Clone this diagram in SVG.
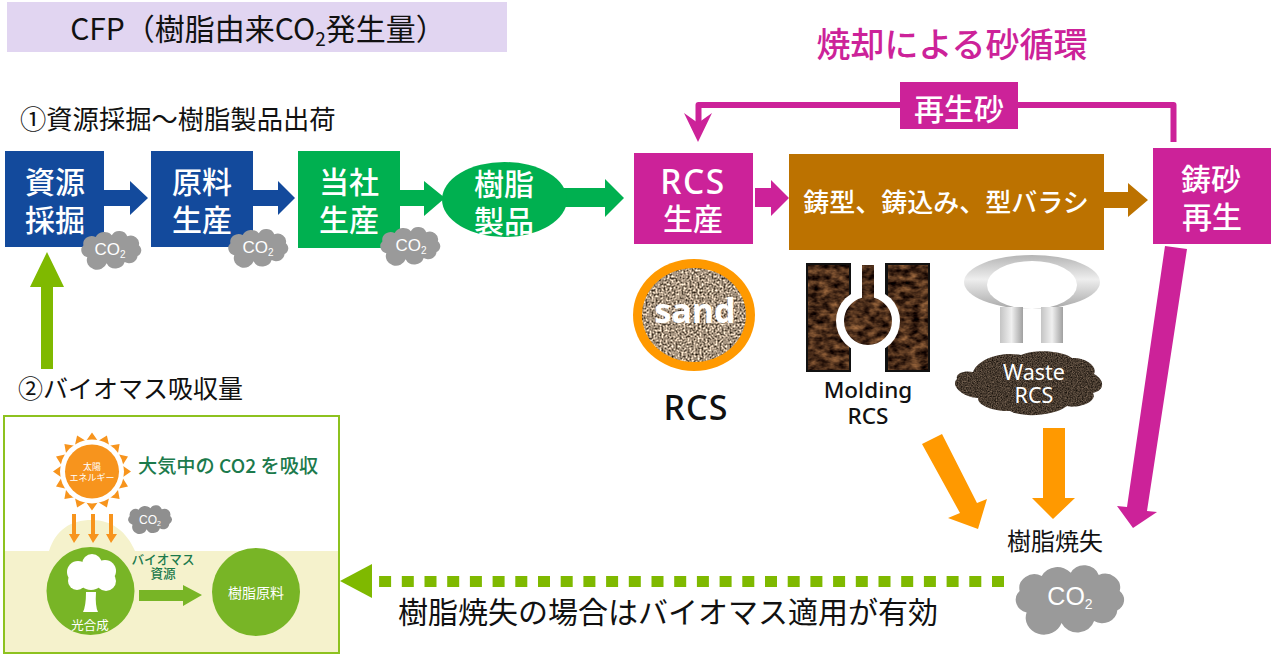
<svg xmlns="http://www.w3.org/2000/svg" width="1271" height="655" viewBox="0 0 1271 655">
<style>
text{font-family:"Noto Sans CJK JP","Noto Sans",sans-serif}
.lat{font-family:"Noto Sans","Noto Sans CJK JP",sans-serif}
.ari{font-family:"Liberation Sans",Arial,sans-serif}
.blue{fill:#134a9c}.green{fill:#00b050}.mag{fill:#cc2299}.brown{fill:#bc7200}.org{fill:#ff9900}.lime{fill:#7fb900}
.w{fill:#fff;text-anchor:middle;font-weight:500}
.big{font-size:30px}
.k{fill:#111}
.c{fill:#fff;text-anchor:middle;font-size:17px}
.in{fill:#78b526}
.dg{fill:#1c7a4c;font-weight:500}
</style>
<defs>
<symbol id="cloud" viewBox="-2 -5 104 72" preserveAspectRatio="none">
<path d="M14 44A12 12 0 0 1 8 24A13 13 0 0 1 27 10A15 15 0 0 1 52 7A13 13 0 0 1 76 9A13 13 0 0 1 94 24A11 11 0 0 1 92 42A13 13 0 0 1 72 52A15 15 0 0 1 44 54A15 15 0 0 1 14 44Z"/>
</symbol>
<filter id="fSand" x="0" y="0" width="1" height="1" color-interpolation-filters="sRGB">
<feTurbulence type="fractalNoise" baseFrequency=".5" numOctaves="2" seed="4"/>
<feColorMatrix values="1.7 0 0 0 -.2  1.6 0 0 0 -.22  1.5 0 0 0 -.25  0 0 0 0 1"/>
</filter>
<filter id="fSoil" x="0" y="0" width="1" height="1" color-interpolation-filters="sRGB">
<feTurbulence type="fractalNoise" baseFrequency=".1 .16" numOctaves="3" seed="8"/>
<feColorMatrix values=".9 0 0 0 -.16  .65 0 0 0 -.15  .4 0 0 0 -.1  0 0 0 0 1"/>
</filter>
<filter id="fWaste" x="0" y="0" width="1" height="1" color-interpolation-filters="sRGB">
<feTurbulence type="fractalNoise" baseFrequency=".8" numOctaves="2" seed="2"/>
<feColorMatrix values=".6 0 0 0 -.02  .52 0 0 0 -.03  .45 0 0 0 -.04  0 0 0 0 1"/>
</filter>
<linearGradient id="gv" x1="0" y1="0" x2="0" y2="1"><stop offset="0" stop-color="#b5b5b5"/><stop offset=".45" stop-color="#eeeeee"/><stop offset="1" stop-color="#a8a8a8"/></linearGradient>
<linearGradient id="gl" x1="0" y1="0" x2="1" y2="0"><stop offset="0" stop-color="#c4c4c4"/><stop offset=".5" stop-color="#f0f0f0"/><stop offset="1" stop-color="#a0a0a0"/></linearGradient>
<clipPath id="cSand"><ellipse cx="694" cy="315" rx="52" ry="47"/></clipPath>
<clipPath id="cBlocks"><path d="M808 265H849V370H808ZM888 265H928V370H888Z"/></clipPath>
<clipPath id="cCore"><path d="M862 265H874V300H862Z"/><circle cx="868" cy="321" r="24"/></clipPath>
<clipPath id="cWaste"><path d="M973 372C978 358 1003 351 1021 355C1033 349 1062 350 1072 358C1086 357 1098 367 1094 374C1104 379 1106 390 1093 393C1098 402 1078 409 1067 406C1055 416 1022 418 1010 411C996 412 977 406 978 398C962 397 950 385 957 379C955 373 965 370 973 372Z"/></clipPath>
</defs>
<rect width="1271" height="655" fill="#fff"/>

<g id="title">
<rect x="7" y="2" width="500" height="50" fill="#e1d5f1"/>
<text x="258" y="40" text-anchor="middle" font-size="30" class="k">CFP（樹脂由来CO<tspan font-size="19" dy="6">2</tspan><tspan dy="-6">発生量）</tspan></text>
</g>
<text id="loop-title" x="952" y="57" text-anchor="middle" font-size="34" font-weight="500" class="mag">焼却による砂循環</text>
<text id="label-1" x="20" y="129" font-size="26.3" class="k">①資源採掘～樹脂製品出荷</text>
<text id="label-2" x="18" y="398" font-size="25" class="k">②バイオマス吸収量</text>

<g id="connectors">
<polygon class="blue" points="104,190 130,190 130,181 148,198 130,215 130,206 104,206"/>
<polygon class="blue" points="253,190 278,190 278,181 295,198 278,215 278,206 253,206"/>
<polygon class="green" points="400,190 424,190 424,181 445,198 424,216 424,206 400,206"/>
<polygon class="green" points="560,188 605,188 605,179 624,198 605,217 605,207 560,207"/>
<polygon class="mag" points="755,188 771,188 771,180 789,198 771,216 771,207 755,207"/>
<polygon class="brown" points="1104,192 1128,192 1128,183 1148,200 1128,217 1128,208 1104,208"/>
<polygon class="lime" points="41,369 41,287 30,287 47,252 64,287 53,287 53,369"/>
<path d="M1173.500 142V105H698.500V124" fill="none" stroke="#cc2299" stroke-width="6" stroke-linejoin="round"/>
<polygon class="mag" points="698,142 684,113 698,123 712,113"/>
<polygon class="mag" points="1165,246 1187,249 1147,511 1157,512 1133,528 1117,506 1127,507"/>
<polygon class="org" points="922,444 942,434 977,503 987,499 978,529 948,518 960,513"/>
<polygon class="org" points="1043,428 1065,428 1065,498 1075,498 1053,519 1032,498 1043,498"/>
<path d="M1004 581.500H372" fill="none" stroke="#7fb900" stroke-width="11" stroke-dasharray="12 10.700"/>
<polygon class="lime" points="340,581 372,564 372,598"/>
</g>

<g id="node-shigen"><rect class="blue" x="5" y="151" width="99" height="96"/><text class="w big"><tspan x="55" y="193">資源</tspan><tspan x="55" y="231">採掘</tspan></text></g>
<g id="node-genryo"><rect class="blue" x="151" y="151" width="102" height="96"/><text class="w big"><tspan x="202" y="193">原料</tspan><tspan x="202" y="231">生産</tspan></text></g>
<g id="node-tosha"><rect class="green" x="298" y="151" width="102" height="97"/><text class="w big"><tspan x="349" y="193">当社</tspan><tspan x="349" y="231">生産</tspan></text></g>
<g id="node-jushi"><ellipse class="green" cx="504.500" cy="199.500" rx="62.500" ry="37.500"/><text class="w big"><tspan x="504" y="195">樹脂</tspan><tspan x="504" y="232">製品</tspan></text></g>
<g id="node-rcs"><rect class="mag" x="634" y="153" width="119" height="91"/><text class="w big"><tspan class="lat" font-size="33.500" letter-spacing="1.500" x="693" y="194">RCS</tspan><tspan x="693" y="230">生産</tspan></text></g>
<g id="node-mold"><rect class="brown" x="789" y="154" width="315" height="96"/><text class="w" font-size="26" x="946" y="212">鋳型、鋳込み、型バラシ</text></g>
<g id="node-saisei"><rect class="mag" x="1153" y="148" width="118" height="96"/><text class="w big"><tspan x="1211" y="190">鋳砂</tspan><tspan x="1212" y="228">再生</tspan></text></g>
<g id="node-saiseisuna"><rect class="mag" x="900" y="82" width="118" height="47"/><text class="w" font-size="30" x="959" y="120">再生砂</text></g>

<g id="cloud-1"><use href="#cloud" x="77" y="228" width="67" height="43" fill="#9a9a9a"/><text class="c ari" x="110" y="255">CO<tspan font-size="10" dy="3">2</tspan></text></g>
<g id="cloud-2"><use href="#cloud" x="224" y="226" width="67" height="43" fill="#9a9a9a"/><text class="c ari" x="258" y="253">CO<tspan font-size="10" dy="3">2</tspan></text></g>
<g id="cloud-3"><use href="#cloud" x="376" y="224" width="67" height="43" fill="#9a9a9a"/><text class="c ari" x="411" y="251">CO<tspan font-size="10" dy="3">2</tspan></text></g>

<g id="rcs-sand">
<ellipse cx="694" cy="315" rx="61" ry="56" fill="#ff9900"/>
<g clip-path="url(#cSand)"><rect x="640" y="265" width="108" height="100" filter="url(#fSand)"/></g>
<text x="695" y="323" class="lat" fill="#fff" text-anchor="middle" font-size="34" font-weight="700">sand</text>
<text x="696" y="420" class="lat k" text-anchor="middle" font-size="34" font-weight="500" letter-spacing="1">RCS</text>
</g>
<g id="molding-rcs">
<rect x="806" y="263" width="45" height="109" fill="#111"/><rect x="885" y="263" width="45" height="109" fill="#111"/>
<g clip-path="url(#cBlocks)"><rect x="806" y="263" width="125" height="110" filter="url(#fSoil)"/></g>
<circle cx="868" cy="321" r="32" fill="#fff"/>
<g clip-path="url(#cCore)"><rect x="806" y="263" width="125" height="110" filter="url(#fSoil)"/></g>
<text class="lat k" text-anchor="middle" font-size="22.500" font-weight="500"><tspan x="868" y="398">Molding</tspan><tspan x="868" y="424">RCS</tspan></text>
</g>
<g id="waste-rcs">
<ellipse cx="1032" cy="282" rx="68" ry="27" fill="url(#gv)"/>
<ellipse cx="1032" cy="285" rx="45" ry="24" fill="#fff"/>
<rect x="1000" y="307" width="23" height="36" fill="url(#gl)"/><rect x="1041" y="307" width="22" height="36" fill="url(#gl)"/>
<g clip-path="url(#cWaste)"><rect x="950" y="348" width="158" height="72" filter="url(#fWaste)"/></g>
<text class="lat" fill="#fff" text-anchor="middle" font-size="21.500"><tspan x="1034" y="380">Waste</tspan><tspan x="1034" y="403">RCS</tspan></text>
</g>
<g id="loss">
<text x="1055" y="550" text-anchor="middle" font-size="24" class="k">樹脂焼失</text>
<use href="#cloud" x="1008" y="560" width="121" height="77" fill="#9a9a9a"/>
<text x="1070" y="605" class="ari" text-anchor="middle" font-size="25" fill="#fff">CO<tspan font-size="14" dy="4">2</tspan></text>
</g>
<text id="bio-note" x="398" y="623" font-size="30" class="k">樹脂焼失の場合はバイオマス適用が有効</text>

<g id="inset">
<rect x="4" y="416" width="335" height="237" fill="#fff"/>
<path d="M4 551H49C56 530 70 520 92 520C112 520 127 532 135 551H339V652H4Z" fill="#f5f2cc"/>
<rect x="4" y="416" width="335" height="237" fill="none" stroke="#8dc21f" stroke-width="2"/>
<g id="sun">
<polygon fill="#f7941d" points="92,432.500 98,441.100 106.900,435.500 109.200,445.700 119.600,443.900 117.800,454.300 128,456.600 122.400,465.500 131,471.500 122.400,477.500 128,486.400 117.800,488.700 119.600,499.100 109.200,497.300 106.900,507.500 98,501.900 92,510.500 86,501.900 77.100,507.500 74.800,497.300 64.400,499.100 66.200,488.700 56,486.400 61.600,477.500 53,471.500 61.600,465.500 56,456.600 66.200,454.300 64.400,443.900 74.800,445.700 77.100,435.500 86,441.100"/>
<circle cx="92" cy="471.500" r="32" fill="#fff"/><circle cx="92" cy="471.500" r="27" fill="#f7941d"/>
<text fill="#fff" text-anchor="middle" font-size="9"><tspan x="92" y="470">太陽</tspan><tspan x="92" y="481">エネルギー</tspan></text>
</g>
<g fill="#f7941d">
<polygon points="72,514 76,514 76,534 80,534 74,543 69,534 72,534"/>
<polygon points="91,514 95,514 95,534 99,534 93,543 88,534 91,534"/>
<polygon points="109,514 113,514 113,534 117,534 111,543 106,534 109,534"/>
</g>
<text x="138" y="473" class="dg" font-size="19.200">大気中の CO2 を吸収</text>
<use href="#cloud" x="125" y="503" width="49" height="32" fill="#8f8f8f"/>
<text x="150" y="524" fill="#fff" class="ari" text-anchor="middle" font-size="12">CO<tspan font-size="7" dy="2">2</tspan></text>
<circle class="in" cx="90.500" cy="591" r="44"/>
<g id="tree" fill="#fff">
<path d="M86 592Q86 606 83 612H98Q95 606 96 592Z"/>
<circle cx="78" cy="572" r="11"/><circle cx="92" cy="564" r="10"/><circle cx="105" cy="571" r="11"/><circle cx="77" cy="581" r="9"/><circle cx="91" cy="577" r="13"/><circle cx="106" cy="581" r="10"/>
</g>
<text x="90" y="630" fill="#fff" text-anchor="middle" font-size="12.500">光合成</text>
<circle class="in" cx="256" cy="592" r="44"/>
<text x="256" y="598" fill="#fff" text-anchor="middle" font-size="14">樹脂原料</text>
<polygon class="in" points="139,590 183,590 183,585 202,595 183,606 183,601 139,601"/>
<text class="dg" text-anchor="middle" font-size="12.600" font-weight="700"><tspan x="163" y="564">バイオマス</tspan><tspan x="163" y="578">資源</tspan></text>
</g>
</svg>
